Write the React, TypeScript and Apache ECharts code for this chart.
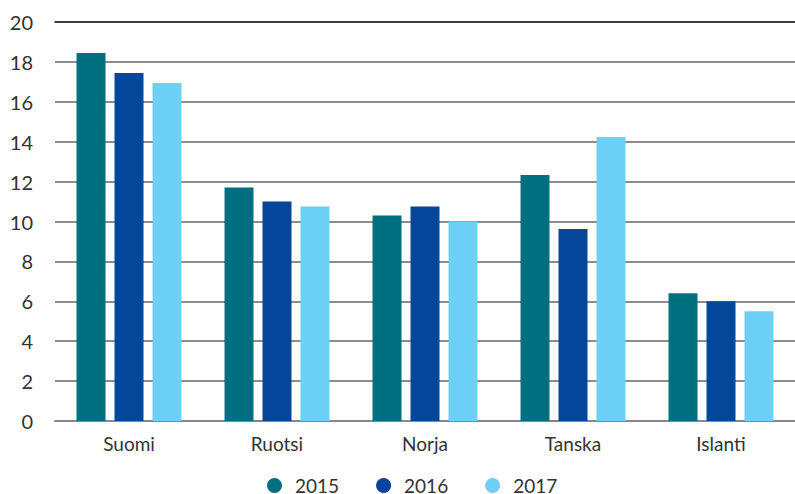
import React, { useEffect, useRef } from "react";
import * as echarts from "echarts";

const categories = ["Suomi", "Ruotsi", "Norja", "Tanska", "Islanti"];
const seriesNames = ["2015", "2016", "2017"];
const values2015 = [18.45, 11.7, 10.3, 12.33, 6.4];
const values2016 = [17.44, 11.0, 10.75, 9.62, 6.0];
const values2017 = [16.94, 10.75, 10.0, 14.24, 5.5];
const colors = ["#006f80", "#04469a", "#6dd0f6"];

const FONT = "Lato, 'DejaVu Sans', sans-serif";

export default function App() {
  const ref = useRef<HTMLDivElement>(null);
  useEffect(() => {
    document.body.style.margin = "0";
    if (!ref.current) return;
    const chart = echarts.init(ref.current, undefined, { renderer: "svg" });
    const data = [values2015, values2016, values2017];
    chart.setOption({
      animation: false,
      textStyle: { fontFamily: FONT },
      grid: { left: 55, right: 0, top: 22, bottom: 73, containLabel: false },
      legend: {
        left: 262,
        top: 471,
        padding: 5,
        icon: "circle",
        itemWidth: 15,
        itemHeight: 15,
        itemGap: 37,
        textStyle: { fontSize: 19, color: "#333", fontFamily: FONT, padding: [0, 0, 0, 8] },
        data: seriesNames,
      },
      xAxis: [
        {
          type: "category",
          data: categories,
          axisLine: { show: true, lineStyle: { color: "#888", width: 2 } },
          axisTick: { show: false },
          axisLabel: { fontSize: 19, color: "#333", margin: 13, fontFamily: FONT },
        },
        {
          type: "category",
          position: "top",
          data: categories,
          axisLine: { show: true, lineStyle: { color: "#222", width: 1.5 } },
          axisTick: { show: false },
          axisLabel: { show: false },
        },
      ],
      yAxis: {
        type: "value",
        min: 0,
        max: 20,
        interval: 2,
        axisLine: { show: false },
        axisTick: { show: false },
        axisLabel: { fontSize: 20, color: "#333", margin: 22, fontFamily: FONT },
        splitLine: { lineStyle: { color: "#666", width: 1.5 } },
      },
      series: seriesNames.map((name, i) => ({
        name,
        type: "bar",
        data: data[i],
        barWidth: 29,
        barGap: "31%",
        itemStyle: { color: colors[i] },
      })),
    });
    return () => chart.dispose();
  }, []);
  return <div ref={ref} style={{ width: 795, height: 494 }} />;
}
